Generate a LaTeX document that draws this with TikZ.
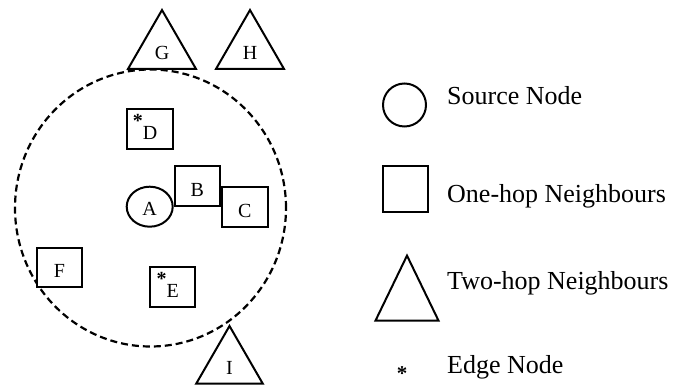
\documentclass[tikz,border=0pt]{standalone}
\usepackage{fontspec}
\setmainfont{Liberation Serif}
\usepackage{tikz}
\usetikzlibrary{
  positioning,
  shapes.geometric
}
\newcommand{\edgemark}{\llap{\raisebox{0.6em}{\bfseries *}}}

\begin{document}
\begin{tikzpicture}[
  x=1pt, y=1pt,
  font=\fontsize{20}{24}\selectfont,
  hop/.style={
    draw,
    fill=white,
    line width=2pt,
    inner sep=0pt,
    minimum width=45pt,
    minimum height=40pt,
    text height=21pt,
    text depth=0pt,
  },
  src/.style={
    ellipse,
    draw,
    fill=white,
    line width=2pt,
    inner sep=0pt,
    minimum width=46pt,
    minimum height=40pt,
    text height=17pt,
    text depth=0pt,
  },
  twohop/.style={
    regular polygon,
    regular polygon sides=3,
    draw,
    line width=2pt,
    inner sep=0pt,
    minimum size=78.5pt,
    text height=20pt,
    text depth=0pt,
  },
  legtri/.style={
    isosceles triangle,
    isosceles triangle stretches,
    shape border rotate=90,
    draw,
    line width=2pt,
    inner sep=0pt,
    minimum width=63pt,
    minimum height=65pt,
  },
  coverage/.style={
    ellipse,
    draw,
    dash pattern=on 7pt off 4pt,
    line width=2.2pt,
    minimum width=271pt,
    minimum height=277pt,
  },
  legtext/.style={
    anchor=base west,
    inner sep=0pt,
    font=\fontsize{26}{30}\selectfont,
  },
]
  \useasboundingbox (0,0) rectangle (674,385);

  % -------- transmission range of A --------
  \node[coverage] (R) at (150.5,177) {};

  % -------- source and one-hop neighbours --------
  \node[src] (A) at (149.7,178.3) {A};
  \node[hop, anchor=south west] (B) at (A.east) {B};
  \node[hop, anchor=north west, minimum width=46pt] (C) at (B.east) {C};
  \node[hop, minimum width=46pt] (D) at (150,255.5) {\edgemark D};
  \node[hop] (E) at (172.7,98) {\edgemark E};
  \node[hop, minimum height=39pt] (F) at (59.5,117.5) {F};

  % -------- two-hop neighbours --------
  \node[twohop] (G) at (162,335.7) {G};
  \node[twohop] (H) at (250,335.7) {H};
  \node[twohop, minimum size=77pt] (I) at (229.5,20.5) {I};

  % -------- legend --------
  \node[src, minimum width=43pt, minimum height=43pt] (lsrc) at (404.5,280) {};
  \node[hop, minimum height=46pt] (lone) at (405,196) {};
  \node[legtri, anchor=apex] (ltwo) at (407,132) {};
  \node[inner sep=0pt, anchor=base, font=\fontsize{21}{25}\selectfont\bfseries] (ledge) at (402,4) {*};

  \node[legtext] (tsrc) at (447,280) {Source Node};
  \node[legtext] (tone) at (447,182) {One-hop Neighbours};
  \node[legtext] (ttwo) at (447,95.5) {Two-hop Neighbours};
  \node[legtext] (tedge) at (447,11) {Edge Node};
\end{tikzpicture}
\end{document}
